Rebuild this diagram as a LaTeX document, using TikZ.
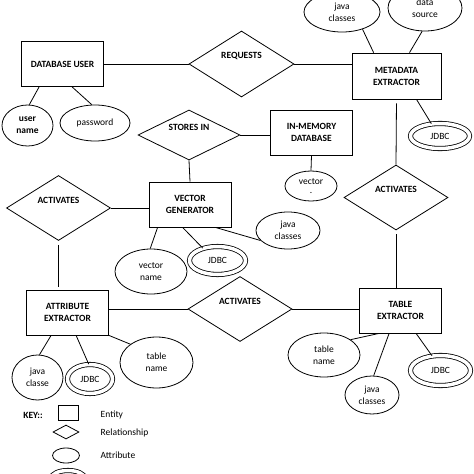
\documentclass[tikz,border=0pt]{standalone}
\usepackage{fontspec}
\setmainfont{Carlito}
\usetikzlibrary{shapes.geometric}

\begin{document}
\begin{tikzpicture}[
                x=1pt,
                y=-1pt,
                line width=0.8pt,
                every node/.style={font=\fontsize{9.5}{12}\selectfont},
                entity/.style={draw, rectangle, minimum width=82pt, minimum height=45pt,
                    inner sep=2pt, align=center, font=\fontsize{9.5}{12}\selectfont\bfseries},
                rel/.style={draw, diamond, aspect=2, inner sep=0pt, minimum width=104pt,
                    minimum height=65pt,
                    label={[font=\fontsize{9.5}{12}\selectfont\bfseries, yshift=8pt]center:#1}},
                attr/.style 2 args={draw, ellipse, inner sep=0pt, align=center,
                    minimum width=#1pt, minimum height=#2pt},
                keyattr/.style 2 args={draw, ellipse, double, double distance=3.5pt, inner sep=0pt,
                    align=center, minimum width=#1pt, minimum height=#2pt}
            ]
            % Frame of the picture
            \path[use as bounding box, clip] (0,0) rectangle (474,474);

            % Entities
            \node[entity] (dbuser) at (62.5,64) {DATABASE USER};
            \node[entity, minimum width=89pt, minimum height=46pt] (meta) at (396.5,76) {METADATA\\EXTRACTOR};
            \node[entity] (inmem) at (311.5,132.5) {IN-MEMORY\\DATABASE};
            \node[entity] (vecgen) at (190,204.5) {VECTOR\\GENERATOR};
            \node[entity] (attrext) at (67.5,312.5) {ATTRIBUTE\\EXTRACTOR};
            \node[entity] (tabext) at (400.5,310.5) {TABLE\\EXTRACTOR};

            % Relationships
            \node[rel=REQUESTS, minimum width=105pt, minimum height=66pt] (requests) at (241.5,64) {};
            \node[rel=STORES IN, minimum width=102pt, minimum height=50pt] (stores) at (189,135) {};
            \node[rel=ACTIVATES] (actleft) at (58.5,208) {};
            \node[rel=ACTIVATES] (actright) at (396,197.5) {};
            \node[rel=ACTIVATES] (actmid) at (240,309) {};

            % Attributes
            \node[attr={51}{41}, font=\fontsize{9.5}{12}\selectfont\bfseries] (uname) at (27.5,125.5) {user\\name};
            \node[attr={70}{36}] (passwd) at (95,123) {password};
            \node[attr={76}{40}] (jcmeta) at (342,12) {java\\classes};
            \node[attr={74}{46}] (dsource) at (425,8) {data\\source};
            \node[keyattr={59}{25}] (jdmeta) at (440,136) {JDBC};
            \node[attr={52}{30}] (vector) at (311,186) {vector\\[-3pt].};
            \node[attr={72}{45}] (vname) at (151,271.5) {vector\\name};
            \node[keyattr={56}{28}] (jdvec) at (217.5,260.5) {JDBC};
            \node[attr={64}{37}] (jcvec) at (288,230.5) {java\\classes};
            \node[attr={51}{45}] (jcattr) at (37.5,377.5) {java\\classe};
            \node[keyattr={45}{29}] (jdattr) at (90,379) {JDBC};
            \node[attr={73}{51}] (tnattr) at (156.5,362.5) {table\\name};
            \node[attr={72}{44}] (tntab) at (324,355) {table\\name};
            \node[attr={54}{38}] (jctab) at (372,395) {java\\classes};
            \node[keyattr={60}{30}] (jdtab) at (440.5,370.5) {JDBC};

            % Connectors between entities and relationships
            \draw (dbuser.east) -- (requests.west);
            \draw (requests.east) -- (requests.east -| meta.west);
            \draw (stores.south) -- (vecgen.north);
            \draw (stores.east) -- (stores.east -| inmem.west);
            \draw[shorten <=4pt] (meta.south) -- (actright.north);
            \draw[shorten <=4pt] (actright.south) -- (actright.south |- tabext.north);
            \draw (actleft.east) -- (actleft.east -| vecgen.west);
            \draw[shorten <=4pt, shorten >=3pt] (actleft.south) -- (actleft.south |- attrext.north);
            \draw (actmid.west) -- (actmid.west -| attrext.east);
            \draw (actmid.east) -- (actmid.east -| tabext.west);

            % Connectors to attributes
            \draw ([xshift=18pt]dbuser.south west) -- (uname.85);
            \draw ([xshift=51pt]dbuser.south west) -- (passwd.100);
            \draw ([xshift=22pt]meta.north west) -- (jcmeta.-40);
            \draw ([xshift=13pt]meta.north) -- (dsource.-97);
            \draw ([xshift=20pt]meta.south) -- (jdmeta.125);
            \draw (inmem.south) -- (vector.north);
            \draw ([xshift=9pt]vecgen.south west) -- (vname.92);
            \draw ([xshift=34pt]vecgen.south west) -- (jdvec.140);
            \draw ([xshift=-16pt]vecgen.south east) -- (jcvec.200);
            \draw ([xshift=25pt]attrext.south west) -- (jcattr.85);
            \draw ([xshift=50pt]attrext.south west) -- (jdattr.95);
            \draw (attrext.south east) -- (tnattr.145);
            \draw ([xshift=20pt]tabext.south west) -- (tntab.30);
            \draw ([xshift=30pt]tabext.south west) -- (jctab.85);
            \draw ([xshift=57pt]tabext.south west) -- (jdtab.120);

            % Key
            \node[font=\fontsize{9.5}{12}\selectfont\bfseries] (keytitle) at (33,415) {KEY::};
            \node[draw, rectangle, minimum width=20pt, minimum height=15pt, inner sep=0pt] (keyent) at (68,412.5) {};
            \node[draw, diamond, aspect=2, minimum width=26pt, minimum height=14pt, inner sep=0pt] (keyrel) at (66,432) {};
            \node[attr={27}{15}] (keyatt) at (66,455.5) {};
            \node[keyattr={33}{15}] (keykey) at (68,478) {};
            \node[anchor=west] (keyenttext) at (97,415) {Entity};
            \node[anchor=west] (keyreltext) at (97,433) {Relationship};
            \node[anchor=west] (keyatttext) at (97,455) {Attribute};
        \end{tikzpicture}
\end{document}
